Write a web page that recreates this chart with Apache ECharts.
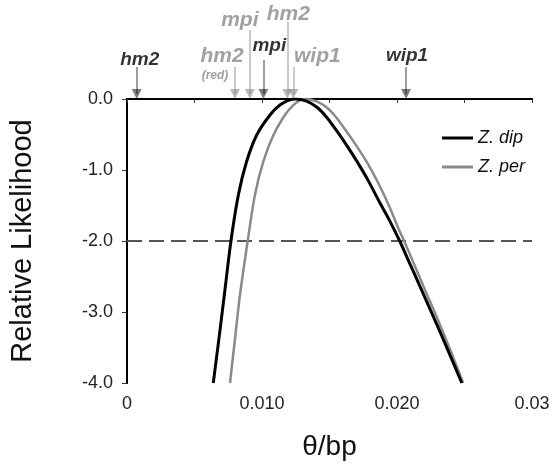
<!DOCTYPE html>
<html><head><meta charset="utf-8">
<script src="https://cdn.jsdelivr.net/npm/echarts@6/dist/echarts.min.js"></script>
<style>html,body{margin:0;padding:0;background:#fff}#c{width:554px;height:466px}</style>
</head><body><div id="c"></div>
<script>
// ---- data ----
const dipTheta = [0.00639, 0.00678, 0.00721, 0.00770, 0.00825, 0.00886, 0.00960, 0.01059, 0.01133, 0.0121, 0.01244, 0.0133, 0.0141, 0.0148, 0.0155, 0.0163, 0.0171, 0.0179, 0.0187, 0.0195, 0.0202, 0.0210, 0.0218, 0.0228, 0.0238, 0.0248];
const dipLik   = [-4.0, -3.42, -2.76, -2.0, -1.35, -0.88, -0.51, -0.225, -0.085, -0.01, 0.0, -0.03, -0.12, -0.26, -0.44, -0.66, -0.90, -1.16, -1.45, -1.73, -2.0, -2.34, -2.68, -3.11, -3.55, -4.0];
const perTheta = [0.00763, 0.00795, 0.00837, 0.00894, 0.00948, 0.0101, 0.01084, 0.0117, 0.01232, 0.0129, 0.01319, 0.0140, 0.0148, 0.0155, 0.0162, 0.0170, 0.0178, 0.0186, 0.0194, 0.0201, 0.0206, 0.0213, 0.0221, 0.0231, 0.0240, 0.0249];
const perLik   = [-4.0, -3.46, -2.76, -2.0, -1.35, -0.88, -0.51, -0.225, -0.085, -0.01, 0.0, -0.03, -0.12, -0.26, -0.44, -0.66, -0.90, -1.18, -1.50, -1.82, -2.03, -2.34, -2.70, -3.14, -3.56, -4.0];
const cutoffLevel = -2;
const seriesNames = ['Z. dip', 'Z. per'];
const xLabelValues = [0, 0.01, 0.02, 0.03];
const xLabelTexts = ['0', '0.010', '0.020', '0.03'];
const markerNames = ['hm2', 'hm2', 'mpi', 'mpi', 'hm2', 'wip1', 'wip1'];
const markerTheta = [0.00072, 0.0080, 0.0091, 0.0101, 0.01188, 0.01232, 0.02067];
const markerSpecies = ['dip', 'per', 'per', 'dip', 'per', 'per', 'dip'];
const markerNote = ['', '(red)', '', '', '', '', ''];

// ---- layout (pixels in the annotation band) ----
const arrowStart = [67, 67, 30, 60, 22, 67, 67];
const labelY = [60, 56, 20, 46, 14, 56, 56];
const labelDx = [3, -13, -10, 6, 1, 24, 1];
const noteY = 76, noteDx = -20;

const FONT = "'Liberation Sans', Arial, sans-serif";
const BLACK = '#000', GREY = '#737373';

const dipData = dipTheta.map((t, i) => [t, dipLik[i]]);
const perData = perTheta.map((t, i) => [t, perLik[i]]);

const arrowData = markerTheta.map((t, i) => ({
  coords: [[t, arrowStart[i]], [t, 94]],
  lineStyle: { color: markerSpecies[i] === 'dip' ? BLACK : GREY, width: 1.5 }
}));
const labelData = markerTheta.map((t, i) => ({
  value: [t, labelY[i]],
  label: {
    formatter: markerNames[i],
    offset: [labelDx[i], 0],
    fontStyle: 'italic',
    fontWeight: 'bold',
    fontSize: markerSpecies[i] === 'dip' ? 19 : 21,
    color: markerSpecies[i] === 'dip' ? BLACK : '#8a8a8a'
  }
}));
markerNote.forEach((n, i) => {
  if (n) labelData.push({
    value: [markerTheta[i], noteY],
    label: { formatter: n, offset: [noteDx, 0], fontStyle: 'italic', fontWeight: 'bold', fontSize: 12, color: '#8a8a8a' }
  });
});

function xFmt(v) {
  for (let i = 0; i < xLabelValues.length; i++) if (Math.abs(v - xLabelValues[i]) < 1e-9) return xLabelTexts[i];
  return '';
}

const chart = echarts.init(document.getElementById('c'), null, { renderer: 'canvas' });
chart.setOption({
  animation: false,
  textStyle: { fontFamily: FONT },
  grid: [
    { left: 127, right: 22, top: 99, bottom: 83 },
    { left: 127, right: 22, top: 0, height: 99 }
  ],
  legend: {
    left: 437, top: 124, orient: 'vertical', itemGap: 11, itemWidth: 31, itemHeight: 3,
    textStyle: { fontFamily: FONT, fontSize: 18, fontStyle: 'italic', color: '#111' },
    data: [{ name: seriesNames[0], icon: 'rect' }, { name: seriesNames[1], icon: 'rect' }]
  },
  xAxis: [
    { gridIndex: 0, type: 'value', min: 0, max: 0.03, interval: 0.005, position: 'bottom',
      name: 'θ/bp', nameLocation: 'middle', nameGap: 50,
      nameTextStyle: { fontFamily: FONT, fontSize: 28, color: '#111' },
      axisLine: { lineStyle: { color: BLACK, width: 2 } },
      axisTick: { show: true, length: 4, lineStyle: { color: '#333' } },
      axisLabel: { formatter: xFmt, fontSize: 18, color: '#222', margin: 12, showMaxLabel: true },
      splitLine: { show: false } },
    { gridIndex: 0, type: 'value', min: 0, max: 0.03, interval: 0.005, position: 'top',
      axisLine: { lineStyle: { color: BLACK, width: 2 } },
      axisTick: { show: true, inside: true, length: 4, lineStyle: { color: '#333' } },
      axisLabel: { show: false }, splitLine: { show: false } },
    { gridIndex: 1, type: 'value', min: 0, max: 0.03, show: false }
  ],
  yAxis: [
    { gridIndex: 0, type: 'value', min: -4, max: 0, interval: 1, position: 'left',
      name: 'Relative Likelihood', nameLocation: 'middle', nameGap: 90, nameRotate: 90,
      nameTextStyle: { fontFamily: FONT, fontSize: 29, color: '#111' },
      axisLine: { lineStyle: { color: BLACK, width: 2 } },
      axisTick: { show: true, length: 5, lineStyle: { color: '#333' } },
      axisLabel: { formatter: v => v.toFixed(1), fontSize: 18, color: '#222', margin: 14 },
      splitLine: { show: false } },
    { gridIndex: 0, type: 'value', min: -4, max: 0, interval: 1, position: 'right',
      axisLine: { show: true, lineStyle: { color: BLACK, width: 2 } },
      axisTick: { show: false }, axisLabel: { show: false }, splitLine: { show: false } },
    { gridIndex: 1, type: 'value', min: 0, max: 99, inverse: true, show: false }
  ],
  series: [
    { name: 'cutoff', type: 'line', xAxisIndex: 0, yAxisIndex: 0, silent: true,
      data: [[0, cutoffLevel], [0.03, cutoffLevel]], symbol: 'none',
      lineStyle: { color: '#555', width: 2, type: [15, 7] } },
    { name: seriesNames[1], type: 'line', xAxisIndex: 0, yAxisIndex: 0, data: perData,
      symbol: 'none', smooth: 0.3, clip: true,
      itemStyle: { color: '#8a8a8a' }, lineStyle: { color: '#8a8a8a', width: 2.5 } },
    { name: seriesNames[0], type: 'line', xAxisIndex: 0, yAxisIndex: 0, data: dipData,
      symbol: 'none', smooth: 0.3, clip: true,
      itemStyle: { color: BLACK }, lineStyle: { color: BLACK, width: 3 } },
    { type: 'lines', coordinateSystem: 'cartesian2d', xAxisIndex: 2, yAxisIndex: 2,
      symbol: ['none', 'triangle'], symbolSize: [8, 10], data: arrowData, silent: true },
    { type: 'scatter', xAxisIndex: 2, yAxisIndex: 2, symbolSize: 0, silent: true,
      label: { show: true, position: 'inside', fontFamily: FONT }, data: labelData }
  ]
});
</script></body></html>
